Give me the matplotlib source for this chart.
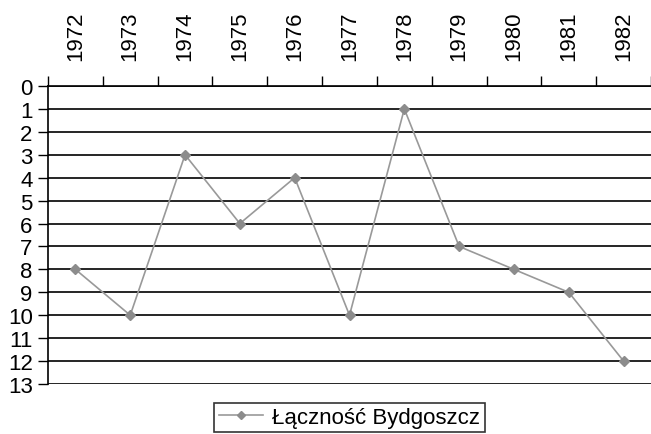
import numpy as np
import matplotlib.pyplot as plt

# Data
years = ['1972', '1973', '1974', '1975', '1976', '1977', '1978', '1979', '1980', '1981', '1982']
places = [8, 10, 3, 6, 4, 10, 1, 7, 8, 9, 12]
series_name = 'Łączność Bydgoszcz'

plt.rcParams['font.family'] = ['Liberation Sans', 'DejaVu Sans']

fig = plt.figure(figsize=(6.51, 4.35), dpi=100)
ax = fig.add_axes([48 / 651, 50 / 435, 603 / 651, 298 / 435])

x = np.arange(len(years))
ax.plot(x, places, color='#999999', linewidth=1.2, marker='D', markersize=5.5,
        markerfacecolor='#8c8c8c', markeredgecolor='#8c8c8c', label=series_name, zorder=3)

ax.set_xlim(-0.5, len(years) - 0.5)
ax.set_ylim(13, 0)

# category labels on top, ticks between categories
ax.xaxis.tick_top()
ax.set_xticks(x)
ax.set_xticklabels(years, rotation=90, fontsize=16)
ax.set_xticks(np.arange(-0.5, len(years), 1), minor=True)
ax.tick_params(axis='x', which='major', length=0, pad=19)
ax.tick_params(axis='x', which='minor', length=7, width=1, direction='out', color='black')

ax.set_yticks(range(0, 14))
ax.tick_params(axis='y', length=7, width=1, direction='out', labelsize=16, pad=4)

ax.grid(axis='y', color='black', linewidth=1.2)
ax.set_axisbelow(True)
for side in ['right', 'bottom']:
    ax.spines[side].set_visible(False)
ax.spines['top'].set_linewidth(1.2)
ax.spines['left'].set_linewidth(1.2)

leg = ax.legend(loc='upper center', bbox_to_anchor=(0.5, -0.025), fontsize=16,
                frameon=True, fancybox=False, edgecolor='black', handlelength=2.0,
                borderpad=0.2, handletextpad=0.4, markerscale=0.8)
leg.get_frame().set_linewidth(1.2)

fig.savefig('out.png', dpi=100)
